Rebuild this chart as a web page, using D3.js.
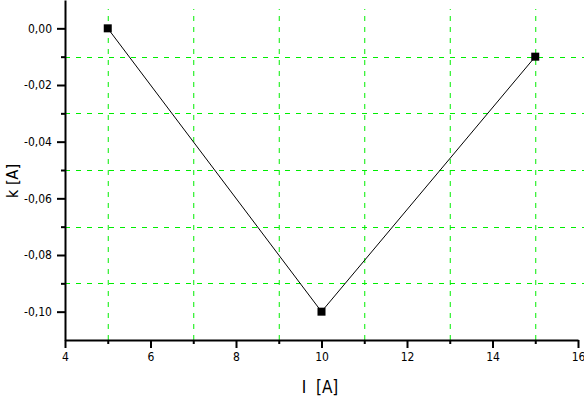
<!DOCTYPE html>
<html>
<head>
<style>
  body { margin: 0; background: #fff; }
  text { font-family: "Liberation Sans Narrow", "DejaVu Sans Condensed", "Liberation Sans", sans-serif; }
</style>
</head>
<body>
<svg id="svg" width="584" height="399"></svg>
<script src="https://d3js.org/d3.v7.min.js"></script>
<script>
  const currents = [5, 10, 15]
  const kValues = [0.00, -0.10, -0.01]
  const xMajor = [4, 6, 8, 10, 12, 14, 16]
  const xMinor = [5, 7, 9, 11, 13, 15]
  const yMajor = [0.00, -0.02, -0.04, -0.06, -0.08, -0.10]
  const yMinor = [-0.01, -0.03, -0.05, -0.07, -0.09]

  const svg = d3.select('#svg')
  const plotLeft = 65, plotRight = 578, plotTop = 0, plotBottom = 340

  const xscale = d3.scaleLinear().domain([4, 16]).range([plotLeft, plotRight])
  const yscale = d3.scaleLinear().domain([-0.11, 0.01]).range([plotBottom, plotTop])

  const locale = d3.formatLocale({ decimal: ',', thousands: '.', grouping: [3], currency: ['', ''], minus: '-' })
  const fmt = locale.format('.2f')

  // grid
  const grid = svg.append('g')
    .attr('stroke', '#00ee00').attr('stroke-width', 1).attr('stroke-dasharray', '5,6')
  grid.selectAll('.gx').data(xMinor).enter().append('line')
    .attr('x1', d => xscale(d) + 0.5).attr('x2', d => xscale(d) + 0.5)
    .attr('y1', plotBottom).attr('y2', 9)
  grid.selectAll('.gy').data(yMinor).enter().append('line')
    .attr('x1', plotLeft).attr('x2', 584)
    .attr('y1', d => Math.round(yscale(d)) + 0.5).attr('y2', d => Math.round(yscale(d)) + 0.5)

  // axes
  svg.append('g').attr('transform', `translate(0, ${plotBottom})`)
    .call(d3.axisBottom(xscale).tickValues(xMajor).tickSize(8).tickSizeOuter(0).tickPadding(4).tickFormat(d3.format('d')))
  svg.append('g').attr('transform', `translate(0, ${plotBottom})`)
    .call(d3.axisBottom(xscale).tickValues(xMinor).tickSize(4).tickSizeOuter(0).tickFormat(''))
    .select('.domain').remove()

  svg.append('g').attr('transform', `translate(${plotLeft}, 0)`)
    .call(d3.axisLeft(yscale).tickValues(yMajor).tickSize(8).tickSizeOuter(0).tickPadding(5).tickFormat(fmt))
  svg.append('g').attr('transform', `translate(${plotLeft}, 0)`)
    .call(d3.axisLeft(yscale).tickValues(yMinor).tickSize(4).tickSizeOuter(0).tickFormat(''))
    .select('.domain').remove()

  svg.selectAll('.domain, .tick line').attr('stroke', '#000').attr('stroke-width', 2)
  svg.selectAll('.tick text').attr('font-size', 12).attr('fill', '#000')

  // line + markers
  const pts = currents.map((c, i) => [c, kValues[i]])
  svg.append('path')
    .datum(pts)
    .attr('fill', 'none').attr('stroke', '#000').attr('stroke-width', 1)
    .attr('d', d3.line().x(d => xscale(d[0])).y(d => yscale(d[1])))
  svg.selectAll('.pt').data(pts).enter().append('rect')
    .attr('x', d => xscale(d[0]) - 4).attr('y', d => yscale(d[1]) - 4)
    .attr('width', 8).attr('height', 8).attr('fill', '#000')

  // axis titles
  svg.append('text')
    .attr('x', 320).attr('y', 393).attr('text-anchor', 'middle')
    .attr('font-size', 17).attr('xml:space', 'preserve')
    .text('I  [A]')
  svg.append('text')
    .attr('transform', 'translate(18, 181) rotate(-90)')
    .attr('text-anchor', 'middle').attr('font-size', 16)
    .text('k [A]')
</script>
</body>
</html>
